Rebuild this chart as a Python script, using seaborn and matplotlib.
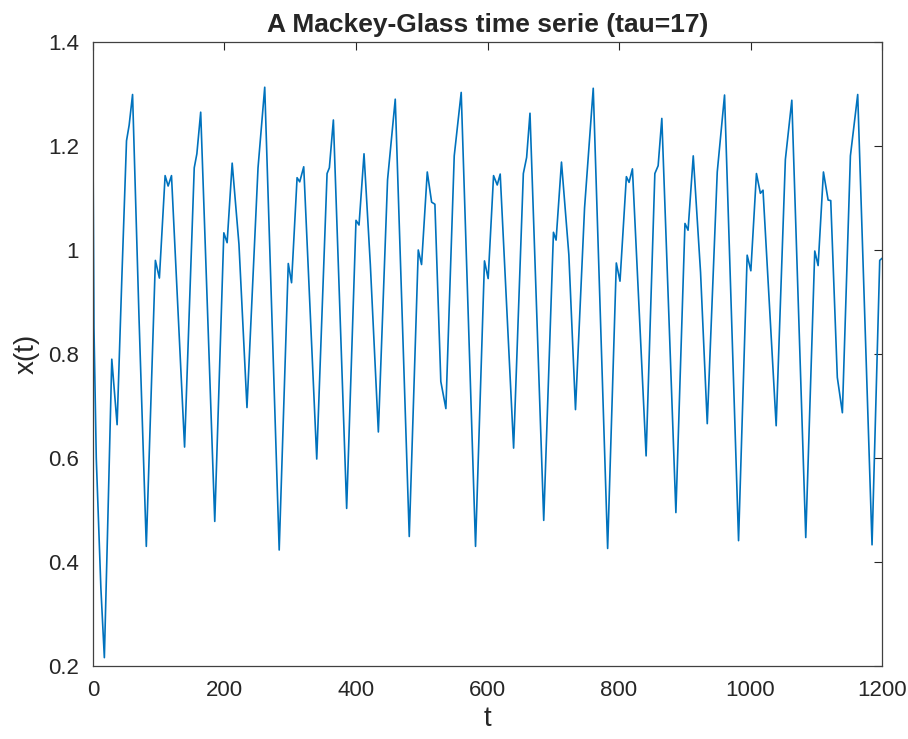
import matplotlib
matplotlib.use("Agg")
import matplotlib.pyplot as plt
import seaborn as sns
import pandas as pd

# точки кривой (пики, впадины, плечи)
t_vals = [0, 1.5, 5, 12, 17.3, 22, 28.6, 36.7, 44, 51, 55, 60.2, 70, 81.1, 94.9, 101,
          109.7, 114.3, 119.4, 139.3, 154, 158, 163.8, 185.2, 199, 204, 211.7, 222,
          234.2, 251, 261.2, 283.2, 297, 302, 310.4, 314.4, 320.5, 340.3, 356, 359.5,
          365.6, 385.8, 400, 404.6, 412.2, 421.8, 434, 448, 459.7, 481, 494.7, 499.7,
          508.4, 515, 520, 529, 536.7, 549.4, 560, 581.8, 595.4, 601, 609.2, 614.8,
          619.3, 639.7, 654.5, 659.5, 664.6, 685.5, 700.3, 704.3, 712.5, 723.7, 733.8,
          747.6, 760.8, 782.7, 795.9, 801.5, 811.2, 815.3, 820.4, 841.2, 854.5, 859.5,
          865.1, 886.5, 900.3, 905, 912.9, 924, 934.2, 949.4, 960.5, 981.8, 994.9,
          1000.5, 1009, 1015, 1019, 1039, 1053, 1062.8, 1084, 1097.7, 1102.8, 1110.9,
          1118, 1122, 1132, 1139.7, 1151.9, 1163, 1184.8, 1196.5, 1200]
x_vals = [1.20, 0.85, 0.60, 0.35, 0.216, 0.45, 0.79, 0.664, 0.95, 1.21, 1.24, 1.299, 0.87,
          0.43, 0.98, 0.946, 1.143, 1.123, 1.143, 0.621, 1.158, 1.185, 1.265, 0.478,
          1.033, 1.014, 1.167, 1.011, 0.697, 1.158, 1.313, 0.423, 0.974, 0.937, 1.139,
          1.131, 1.16, 0.598, 1.147, 1.158, 1.25, 0.503, 1.057, 1.048, 1.185, 0.972,
          0.65, 1.135, 1.29, 0.449, 1.0, 0.972, 1.15, 1.092, 1.088, 0.747, 0.695, 1.181,
          1.303, 0.43, 0.979, 0.945, 1.143, 1.125, 1.146, 0.619, 1.147, 1.178, 1.263,
          0.48, 1.034, 1.019, 1.169, 0.991, 0.693, 1.081, 1.311, 0.426, 0.975, 0.94,
          1.141, 1.13, 1.156, 0.604, 1.147, 1.162, 1.253, 0.495, 1.051, 1.038, 1.181,
          0.957, 0.666, 1.15, 1.298, 0.441, 0.99, 0.96, 1.147, 1.109, 1.115, 0.662,
          1.174, 1.288, 0.447, 0.998, 0.97, 1.15, 1.096, 1.095, 0.755, 0.687, 1.181,
          1.299, 0.433, 0.98, 0.984]

x_ticks = [0, 200, 400, 600, 800, 1000, 1200]
y_ticks = [0.2, 0.4, 0.6, 0.8, 1.0, 1.2, 1.4]
y_ticklabels = ["0.2", "0.4", "0.6", "0.8", "1", "1.2", "1.4"]

df = pd.DataFrame({"t": t_vals, "x": x_vals})

sns.set_style("white")
plt.rcParams["font.family"] = ["Liberation Sans", "DejaVu Sans"]

fig = plt.figure(figsize=(9.08, 7.39), dpi=100)
ax = fig.add_axes([0.1024, 0.0988, 0.869, 0.8444])

sns.lineplot(data=df, x="t", y="x", ax=ax, color="#0072BD", linewidth=1.2,
             estimator=None, sort=False, solid_joinstyle="round")

ax.set_xlim(0, 1200)
ax.set_ylim(0.2, 1.4)
ax.set_xticks(x_ticks)
ax.set_yticks(y_ticks)
ax.set_yticklabels(y_ticklabels)
ax.tick_params(direction="in", length=6, width=0.8, colors="#262626",
               labelsize=16, top=True, right=True)
ax.tick_params(axis="x", pad=10)
ax.tick_params(axis="y", pad=10)
for s in ax.spines.values():
    s.set_color("#404040")
    s.set_linewidth(0.9)

ax.set_title("A Mackey-Glass time serie (tau=17)", fontsize=19, fontweight="bold", pad=7)
ax.set_xlabel("t", fontsize=20, color="#262626", labelpad=4)
ax.set_ylabel("x(t)", fontsize=20, color="#262626", labelpad=6)

fig.savefig("out.png", dpi=100)
